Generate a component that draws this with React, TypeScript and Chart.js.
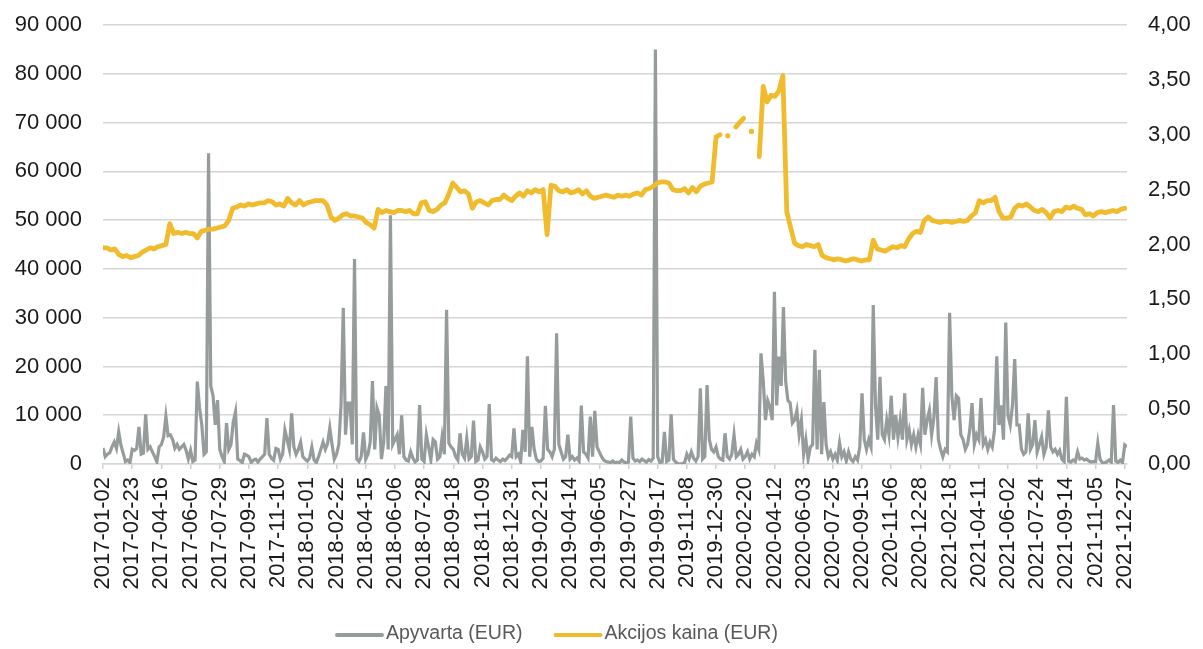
import { useEffect, useRef } from 'react';
import { Chart, registerables } from 'chart.js';

Chart.register(...registerables);

const START_DATE = '2017-01-02';
const END_DATE = '2021-12-31';
const PRICE_STEP_DAYS = 7;
const TURNOVER_STEP_DAYS = 4;

const seriesNames = ['Apyvarta (EUR)', 'Akcijos kaina (EUR)'];

const tickLabels = [
  '2017-01-02', '2017-02-23', '2017-04-16', '2017-06-07', '2017-07-29', '2017-09-19',
  '2017-11-10', '2018-01-01', '2018-02-22', '2018-04-15', '2018-06-06', '2018-07-28',
  '2018-09-18', '2018-11-09', '2018-12-31', '2019-02-21', '2019-04-14', '2019-06-05',
  '2019-07-27', '2019-09-17', '2019-11-08', '2019-12-30', '2020-02-20', '2020-04-12',
  '2020-06-03', '2020-07-25', '2020-09-15', '2020-11-06', '2020-12-28', '2021-02-18',
  '2021-04-11', '2021-06-02', '2021-07-24', '2021-09-14', '2021-11-05', '2021-12-27',
];

// Turnover (EUR), one value every 4 days from START_DATE
const turnover = [
  3300, 1500, 2000, 2300, 3500, 4500, 3200, 6600, 3800, 2200, 500, 800, 300,
  3000, 2800, 3200, 7600, 2000, 2200, 10200, 3000, 3500, 2500, 1500, 400, 3500,
  4000, 5500, 9800, 5800, 6000, 5000, 3200, 4000, 3000, 3500, 4000, 2800, 1000,
  2800, 500, 800, 16900, 11500, 8000, 2000, 2500, 63700, 16000, 14000, 8000, 13100,
  3000, 1500, 500, 8400, 3000, 4000, 8600, 10700, 1000, 700, 300, 2000, 1800,
  1500, 300, 800, 1000, 400, 1000, 1500, 2000, 9400, 2000, 1200, 800, 3200,
  3000, 1000, 2000, 7000, 5000, 3000, 10400, 3500, 2000, 3000, 4500, 1500, 1000,
  600, 1200, 3500, 800, 300, 1500, 3000, 4500, 3000, 4200, 7400, 4000, 1000,
  2000, 4000, 12100, 32000, 6000, 12500, 12500, 4000, 42000, 1000, 500, 1500, 6500,
  1000, 2000, 4500, 17000, 3000, 11500, 10000, 1000, 4500, 16000, 3000, 51000, 4000,
  5000, 6000, 2000, 10000, 1500, 800, 600, 2500, 1200, 400, 800, 12100, 1000,
  500, 6000, 3500, 800, 5000, 4500, 1000, 1500, 5500, 2000, 31600, 4300, 3500,
  3000, 1500, 800, 6300, 2000, 1200, 5300, 1000, 1500, 8900, 500, 800, 3500,
  2500, 1000, 1500, 12300, 900, 600, 1200, 800, 500, 1000, 700, 1200, 1800,
  1500, 7300, 1500, 2000, 500, 7000, 2500, 22100, 1500, 7600, 3000, 1000, 500,
  600, 1200, 11900, 3000, 2500, 1500, 3000, 26800, 4000, 2500, 1000, 1500, 6000,
  1000, 1500, 800, 1200, 600, 12000, 2500, 2000, 1200, 9700, 1500, 10900, 3500,
  2500, 1500, 800, 500, 400, 300, 600, 200, 400, 300, 800, 400, 200,
  400, 9700, 1200, 600, 800, 500, 1000, 700, 400, 900, 600, 1200, 85000,
  1500, 300, 400, 6600, 500, 800, 10200, 1000, 400, 100, 0, 100, 300,
  2000, 1000, 2500, 1200, 600, 1500, 15500, 1000, 1500, 16200, 5000, 3000, 2500,
  3500, 1500, 1000, 800, 6300, 1500, 1000, 2000, 6000, 1500, 2000, 3000, 1000,
  1500, 2500, 1000, 2000, 1500, 4300, 3000, 22700, 17200, 9000, 13000, 11700, 9000,
  35300, 12000, 22000, 16000, 32200, 17000, 13000, 12500, 8400, 9000, 11000, 6000, 9000,
  2000, 5000, 1000, 3500, 4000, 23400, 3000, 19300, 2000, 12700, 4000, 1500, 2500,
  1000, 2000, 800, 4300, 1500, 2500, 600, 2500, 1000, 500, 1500, 800, 3500,
  14500, 5000, 3000, 5000, 3500, 32600, 12000, 5000, 17900, 6000, 5000, 9000, 6000,
  14000, 5000, 10000, 5500, 9000, 5000, 14500, 5000, 7000, 4000, 6000, 3500, 6000,
  4000, 15600, 6000, 9000, 11000, 6000, 9500, 17800, 5000, 3000, 1500, 3000, 2500,
  31000, 14000, 9000, 14000, 13500, 6000, 5000, 3000, 4000, 7000, 12500, 4000, 6000,
  5000, 13500, 4000, 5000, 3000, 4500, 3500, 7000, 22100, 8000, 12000, 5000, 29000,
  10000, 8000, 12000, 21500, 8000, 8000, 3000, 2000, 2500, 10400, 3000, 4000, 9000,
  2500, 4000, 5600, 2000, 3500, 11000, 3500, 2500, 3000, 2000, 2800, 1000, 500,
  13800, 600, 400, 800, 500, 2500, 1000, 1200, 800, 1000, 600, 400, 500,
  500, 4300, 1000, 300, 200, 500, 800, 400, 12100, 600, 300, 800, 300,
  3900, 3500,
];

// Share price (EUR), one value every 7 days from START_DATE (null = no trade)
const price = [
  1.97, 1.97, 1.95, 1.96, 1.91, 1.89, 1.90, 1.88, 1.89, 1.90,
  1.93, 1.95, 1.97, 1.96, 1.98, 1.99, 2.00, 2.19, 2.10, 2.11,
  2.10, 2.11, 2.10, 2.10, 2.06, 2.12, 2.13, 2.14, 2.14, 2.15,
  2.16, 2.17, 2.22, 2.33, 2.34, 2.36, 2.35, 2.37, 2.36, 2.37,
  2.38, 2.38, 2.40, 2.39, 2.36, 2.37, 2.35, 2.42, 2.38, 2.36,
  2.40, 2.36, 2.38, 2.39, 2.40, 2.40, 2.40, 2.36, 2.25, 2.22,
  2.24, 2.27, 2.28, 2.26, 2.26, 2.25, 2.24, 2.20, 2.18, 2.15,
  2.32, 2.29, 2.31, 2.30, 2.29, 2.31, 2.31, 2.30, 2.31, 2.28,
  2.28, 2.38, 2.39, 2.31, 2.30, 2.32, 2.36, 2.38, 2.46, 2.56,
  2.52, 2.48, 2.49, 2.46, 2.33, 2.39, 2.40, 2.38, 2.36, 2.40,
  2.41, 2.41, 2.45, 2.42, 2.40, 2.44, 2.47, 2.44, 2.49, 2.47,
  2.50, 2.48, 2.50, 2.09, 2.54, 2.53, 2.49, 2.48, 2.50, 2.47,
  2.48, 2.50, 2.46, 2.49, 2.44, 2.42, 2.43, 2.44, 2.45, 2.44,
  2.43, 2.45, 2.44, 2.45, 2.44, 2.46, 2.47, 2.45, 2.50, 2.51,
  2.53, 2.56, 2.57, 2.57, 2.56, 2.50, 2.49, 2.49, 2.51, 2.47,
  2.52, 2.48, 2.53, 2.55, 2.56, 2.57, 2.98, 3.00, null, 2.99,
  null, 3.07, 3.11, 3.15, null, 3.03, null, 2.80, 3.44, 3.30,
  3.36, 3.35, 3.40, 3.54, 2.30, 2.15, 2.01, 1.99, 1.98, 2.00,
  1.99, 1.98, 2.00, 1.90, 1.88, 1.87, 1.86, 1.87, 1.86, 1.85,
  1.86, 1.87, 1.86, 1.85, 1.86, 1.86, 2.04, 1.96, 1.95, 1.94,
  1.96, 1.98, 1.97, 1.99, 1.98, 2.05, 2.10, 2.12, 2.11, 2.22,
  2.25, 2.22, 2.21, 2.20, 2.21, 2.21, 2.20, 2.21, 2.22, 2.21,
  2.22, 2.26, 2.29, 2.40, 2.38, 2.40, 2.40, 2.43, 2.30, 2.24,
  2.24, 2.25, 2.33, 2.36, 2.35, 2.37, 2.34, 2.31, 2.30, 2.32,
  2.29, 2.24, 2.30, 2.31, 2.30, 2.34, 2.33, 2.35, 2.33, 2.32,
  2.27, 2.28, 2.26, 2.29, 2.30, 2.29, 2.30, 2.31, 2.30, 2.32, 2.33,
];

const GRAY = '#969b9b';
const GOLD = '#f0bc2e';
const FONT = '"Liberation Sans", Arial, Helvetica, sans-serif';

const dayOf = (date: string) =>
  Math.round((Date.parse(date + 'T00:00:00Z') - Date.parse(START_DATE + 'T00:00:00Z')) / 86400000);

const legendPlugin = {
  id: 'bottomLegend',
  afterDraw(chart: any) {
    const ctx = chart.ctx as CanvasRenderingContext2D;
    const items = [
      { label: seriesNames[0], color: GRAY },
      { label: seriesNames[1], color: GOLD },
    ];
    ctx.save();
    ctx.font = `19.5px ${FONT}`;
    ctx.textBaseline = 'middle';
    ctx.textAlign = 'left';
    const y = 634;
    let x = 337;
    for (const it of items) {
      ctx.strokeStyle = it.color;
      ctx.lineWidth = 4;
      ctx.lineCap = 'round';
      ctx.beginPath();
      ctx.moveTo(x, y + 1);
      ctx.lineTo(x + 45, y + 1);
      ctx.stroke();
      ctx.fillStyle = '#595959';
      ctx.fillText(it.label, x + 49, y);
      x += 49 + ctx.measureText(it.label).width + 33;
    }
    ctx.restore();
  },
};

export default function App() {
  const ref = useRef<HTMLCanvasElement>(null);

  useEffect(() => {
    const tickDays = tickLabels.map(dayOf);
    const labelOf = new Map<number, string>(tickDays.map((d, i) => [d, tickLabels[i]]));

    const isolatedRadius = (ctx: any) => {
      const d = ctx.dataset.data as any[];
      const i = ctx.dataIndex;
      if (d[i] == null || d[i].y == null) return 0;
      const prev = d[i - 1] ? d[i - 1].y : null;
      const next = d[i + 1] ? d[i + 1].y : null;
      return prev == null && next == null ? 2.6 : 0;
    };

    const fitY = (width: number) => (scale: any) => {
      scale.width = width;
      scale.paddingTop = 10;
      scale.paddingBottom = 10;
    };

    const chart = new Chart(ref.current as HTMLCanvasElement, {
      type: 'line',
      data: {
        datasets: [
          {
            label: seriesNames[0],
            data: turnover.map((v, i) => ({ x: i * TURNOVER_STEP_DAYS, y: v })),
            yAxisID: 'y',
            borderColor: GRAY,
            backgroundColor: GRAY,
            borderWidth: 3.2,
            pointRadius: 0,
            tension: 0,
            order: 2,
          },
          {
            label: seriesNames[1],
            data: price.map((v, i) => ({ x: i * PRICE_STEP_DAYS, y: v })),
            yAxisID: 'y1',
            borderColor: GOLD,
            backgroundColor: GOLD,
            borderWidth: 4.8,
            pointRadius: isolatedRadius,
            pointBorderWidth: 0,
            pointBackgroundColor: GOLD,
            borderJoinStyle: 'round',
            borderCapStyle: 'round',
            spanGaps: false,
            tension: 0,
            order: 1,
          },
        ] as any,
      },
      options: {
        responsive: false,
        animation: false,
        layout: { padding: { top: 25, left: 0, right: 0, bottom: 0 } },
        plugins: {
          legend: { display: false },
          tooltip: { enabled: false },
        },
        scales: {
          x: {
            type: 'linear',
            min: 0,
            max: dayOf(END_DATE),
            afterBuildTicks: (scale: any) => {
              scale.ticks = tickDays.map((v) => ({ value: v }));
            },
            afterFit: (scale: any) => {
              scale.height = 185;
            },
            grid: {
              drawOnChartArea: false,
              drawTicks: true,
              tickLength: 5,
              color: '#cfcfcf',
              lineWidth: 1.5,
            },
            border: { display: true, color: '#d6d6d6', width: 1.5 },
            ticks: {
              autoSkip: false,
              minRotation: 90,
              maxRotation: 90,
              padding: 8,
              color: '#1a1a1a',
              font: { family: FONT, size: 22 },
              callback: (v: any) => labelOf.get(Number(v)) ?? '',
            },
          },
          y: {
            position: 'left',
            min: 0,
            max: 90000,
            afterFit: fitY(103),
            grid: { color: '#d6d6d6', lineWidth: 1.5, drawTicks: false },
            border: { display: false },
            ticks: {
              stepSize: 10000,
              padding: 21,
              color: '#1a1a1a',
              font: { family: FONT, size: 22 },
              callback: (v: any) => String(v).replace(/\B(?=(\d{3})+(?!\d))/g, ' '),
            },
          },
          y1: {
            position: 'right',
            min: 0,
            max: 4,
            afterFit: fitY(76),
            grid: { drawOnChartArea: false, drawTicks: false },
            border: { display: false },
            ticks: {
              stepSize: 0.5,
              padding: 21,
              color: '#1a1a1a',
              font: { family: FONT, size: 22 },
              callback: (v: any) => Number(v).toFixed(2).replace('.', ','),
            },
          },
        },
      } as any,
      plugins: [legendPlugin],
    });

    return () => chart.destroy();
  }, []);

  return (
    <div style={{ position: 'absolute', left: 0, top: 0, width: 1203, height: 649, background: '#fff' }}>
      <canvas ref={ref} width={1203} height={649} />
    </div>
  );
}
